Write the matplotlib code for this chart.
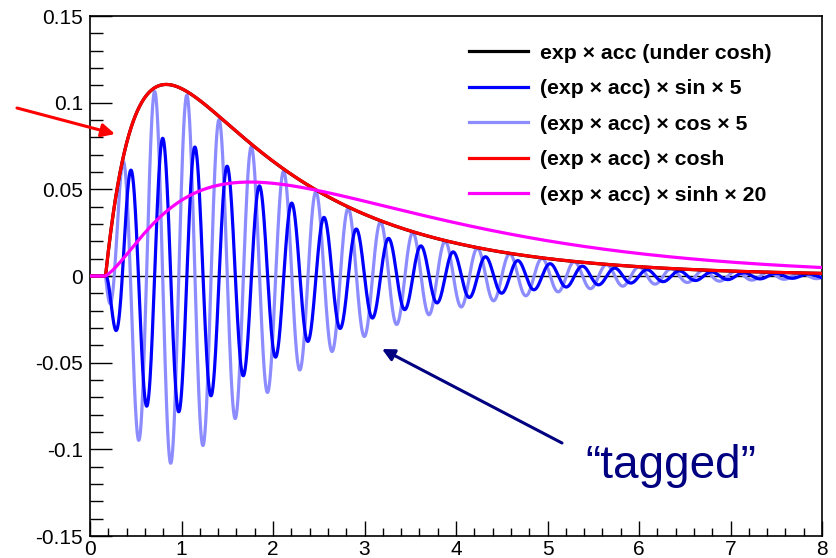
import numpy as np
import matplotlib
matplotlib.use("Agg")
import matplotlib.pyplot as plt

# decay model (B_s style time distribution)
tau = 1.58          # lifetime
dm = 17.8           # oscillation frequency
half_dgamma = 0.0202
t0 = 0.17           # acceptance turn-on
acc_slope = 2.33
norm = 0.238
sin_coef = 0.72     # amplitude of the sin term (already x5)
cos_coef = 0.98     # amplitude of the cos term (already x5)
sinh_scale = 20

labels = ["exp \u00d7 acc (under cosh)",
          "(exp \u00d7 acc) \u00d7 sin \u00d7 5",
          "(exp \u00d7 acc) \u00d7 cos \u00d7 5",
          "(exp \u00d7 acc) \u00d7 cosh",
          "(exp \u00d7 acc) \u00d7 sinh \u00d7 20"]
colors = ["black", "#0000ff", "#8c8cff", "#ff0000", "#ff00ff"]

t = np.linspace(0, 8, 2000)
acc = np.where(t > t0, 1 - np.exp(-acc_slope * (t - t0)), 0.0)
base = norm * np.exp(-t / tau) * acc
curves = [base,
          sin_coef * base * np.sin(dm * t),
          cos_coef * base * np.cos(dm * t),
          base * np.cosh(half_dgamma * t),
          sinh_scale * base * np.sinh(half_dgamma * t)]

plt.rcParams['font.family'] = ['Liberation Sans', 'DejaVu Sans']
fig = plt.figure(figsize=(8.36, 5.58), dpi=100)
ax = fig.add_axes([90/836, 1-536/558, 732/836, 520/558])

ax.axhline(0, color='black', lw=1.0, zorder=1)
order = [2, 1, 0, 3, 4]
handles = {}
for i in order:
    h, = ax.plot(t, curves[i], color=colors[i], lw=2.3, label=labels[i], zorder=2+order.index(i))
    handles[i] = h

ax.set_xlim(0, 8)
ax.set_ylim(-0.15, 0.15)
ax.set_xticks(np.arange(0, 9, 1))
ax.set_xticks(np.arange(0, 8.01, 0.2), minor=True)
ax.set_yticks(np.arange(-0.15, 0.151, 0.05))
ax.set_yticks(np.arange(-0.15, 0.151, 0.01), minor=True)
ax.set_xticklabels([str(v) for v in range(9)])
ax.set_yticklabels(["-0.15", "-0.1", "-0.05", "0", "0.05", "0.1", "0.15"])
ax.tick_params(which='both', direction='in', top=False, right=False, labelsize=15, width=1)
ax.tick_params(axis='y', which='major', length=16, pad=5)
ax.tick_params(axis='y', which='minor', length=9)
ax.tick_params(axis='x', which='major', length=11, pad=3)
ax.tick_params(axis='x', which='minor', length=5.6)
for s in ax.spines.values():
    s.set_linewidth(1.2)

leg = fig.legend([handles[i] for i in range(5)], labels, loc='upper left',
                 bbox_to_anchor=(458/836, 1-33/558), frameon=False, borderpad=0,
                 handlelength=2.8, handletextpad=0.55, labelspacing=0.78,
                 prop={'weight': 'bold', 'size': 15.3})

ax.annotate('', xy=(115/836, 1-134/558), xytext=(17/836, 1-108/558),
            xycoords='figure fraction', textcoords='figure fraction',
            arrowprops=dict(arrowstyle='-|>', color='#ff0000', lw=2.2,
                            mutation_scale=20, shrinkA=0, shrinkB=0),
            annotation_clip=False)
ax.annotate('', xy=(382/836, 1-349/558), xytext=(562/836, 1-443/558),
            xycoords='figure fraction', textcoords='figure fraction',
            arrowprops=dict(arrowstyle='-|>', color='#000080', lw=2.2,
                            mutation_scale=18, shrinkA=0, shrinkB=0),
            annotation_clip=False)
fig.text(585/836, 1-478/558, "\u201ctagged\u201d", color='#000080', fontsize=33,
         ha='left', va='baseline')

fig.savefig('out.png', dpi=100)
